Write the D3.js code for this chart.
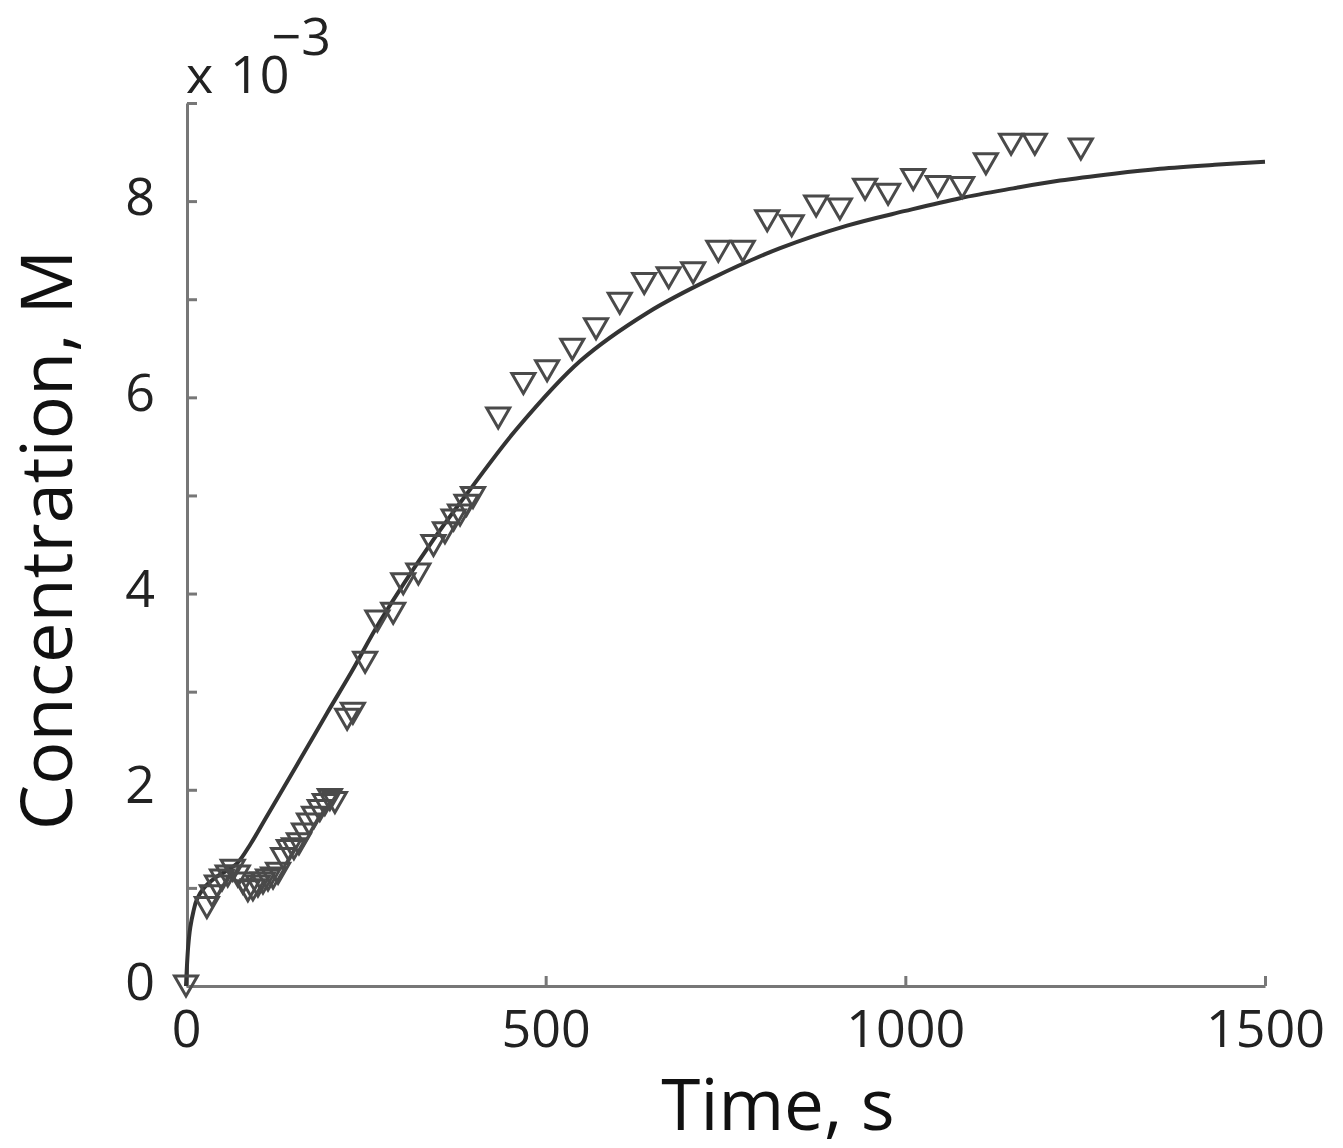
<!DOCTYPE html>
<html><head><meta charset="utf-8">
<script src="https://cdn.jsdelivr.net/npm/d3@7"></script>
<style>body{margin:0;background:#fff}svg{display:block}</style>
</head><body>
<svg id="c" width="1343" height="1148"></svg>
<script>
// Concentration values in units of 1e-3 M
const expTime = [0,29,36,43,50,58,65,72,79,86,93,100,107,114,121,128,135,143,150,157,164,171,178,186,193,200,207,
  224,232,249,266,288,302,323,344,360,372,381,390,399,
  434,469,502,537,570,603,637,671,705,740,774,808,842,876,909,944,976,1011,1045,1079,1112,1147,1180,1244];
const expConc = [0,0.80,0.92,1.02,1.08,1.12,1.18,1.12,1.05,0.97,0.98,1.02,1.05,1.08,1.10,1.15,1.30,1.38,1.40,1.45,1.55,1.65,1.72,1.79,1.85,1.90,1.87,
  2.72,2.78,3.30,3.72,3.80,4.10,4.20,4.49,4.62,4.75,4.80,4.90,4.98,
  5.79,6.14,6.27,6.49,6.70,6.96,7.16,7.22,7.27,7.49,7.49,7.80,7.75,7.95,7.92,8.12,8.07,8.22,8.15,8.14,8.38,8.58,8.58,8.53];
const fitTime = [0,3,6,10,15,25,40,55,71,90,110,130,158,196,230,270,344,399,460,548,641,733,826,919,1000,1076,1150,1215,1290,1354,1430,1500];
const fitConc = [0,0.40,0.60,0.75,0.88,1.00,1.10,1.17,1.25,1.45,1.70,1.95,2.30,2.78,3.20,3.72,4.55,5.10,5.68,6.37,6.86,7.22,7.52,7.75,7.90,8.03,8.13,8.21,8.28,8.33,8.37,8.40];
const xTicks = [0,500,1000,1500];
const yTicks = [0,1,2,3,4,5,6,7,8,9];
const yLabels = [0,2,4,6,8];

const svg = d3.select("#c");
const font = "'Open Sans', 'DejaVu Sans', sans-serif";
const x = d3.scaleLinear().domain([0,1500]).range([186,1265]);
const y = d3.scaleLinear().domain([0,9]).range([986,103]);
const axisColor = "#777";

const gx = svg.append("g").attr("transform","translate(0,986)")
  .call(d3.axisBottom(x).tickValues(xTicks).tickSize(-10).tickSizeOuter(0).tickPadding(24).tickFormat(d3.format("d")));
const gy = svg.append("g").attr("transform","translate(187,0)")
  .call(d3.axisLeft(y).tickValues(yTicks).tickSize(-10).tickSizeOuter(0).tickPadding(32)
    .tickFormat(d => yLabels.includes(d) ? String(d) : ""));
[gx,gy].forEach(g=>{
  g.select(".domain").attr("stroke",axisColor).attr("stroke-width",3);
  g.selectAll(".tick line").attr("stroke",axisColor).attr("stroke-width",3);
  g.selectAll(".tick text").attr("fill","#222").style("font-family",font).style("font-size","52px");
});
gy.selectAll(".tick text").attr("dy","0.25em");

// fitted curve
const fit = fitTime.map((t,i)=>[t,fitConc[i]]);
svg.append("path").datum(fit)
  .attr("d", d3.line().x(d=>x(d[0])).y(d=>y(d[1])).curve(d3.curveCatmullRom.alpha(0.5)))
  .attr("fill","none").attr("stroke","#333").attr("stroke-width",4);

// experimental markers (down triangles)
const tri = "M-11.5,-10L11.5,-10L0,10Z";
svg.append("g").selectAll("path").data(expTime.map((t,i)=>[t,expConc[i]])).join("path")
  .attr("d",tri).attr("transform",d=>`translate(${x(d[0])},${y(d[1])})`)
  .attr("fill","none").attr("stroke","#4a4a4a").attr("stroke-width",3).attr("stroke-linejoin","miter");

// labels
svg.append("text").attr("x",778).attr("y",1130).attr("text-anchor","middle")
  .style("font-family",font).style("font-size","71px").attr("fill","#111").text("Time, s");
svg.append("text").attr("transform","translate(72,540) rotate(-90)").attr("text-anchor","middle")
  .style("font-family",font).style("font-size","72px").attr("fill","#111").text("Concentration, M");
svg.append("text").attr("x",186).attr("y",93).style("font-family",font).style("font-size","52px").attr("fill","#222").text("x");
const exp = svg.append("text").attr("x",230).attr("y",93).style("font-family",font).style("font-size","52px").attr("fill","#222");
exp.append("tspan").text("10");
exp.append("tspan").attr("dx",-18).attr("dy",-38).text("−3");
</script>
</body></html>
